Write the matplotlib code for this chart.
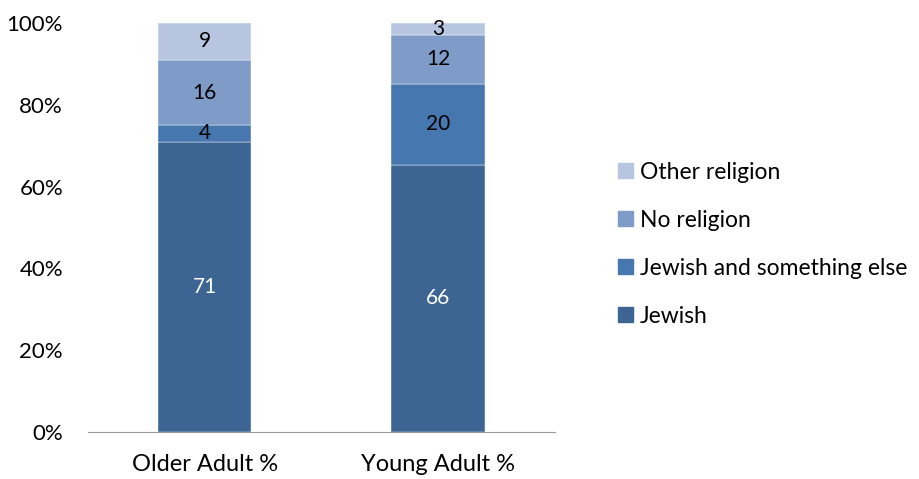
import numpy as np
import matplotlib.pyplot as plt
from matplotlib.patches import Patch

plt.rcParams['font.family'] = ['Lato', 'DejaVu Sans']

groups = ['Older Adult %', 'Young Adult %']
series = ['Jewish', 'Jewish and something else', 'No religion', 'Other religion']
jewish = [71, 66]
jewish_else = [4, 20]
no_religion = [16, 12]
other_religion = [9, 3]

colors = ['#3d6594', '#4677af', '#7f9cc8', '#b7c5e0']
text_colors = ['white', 'black', 'black', 'black']

values = np.array([jewish, jewish_else, no_religion, other_religion], dtype=float)
totals = values.sum(axis=0)
shares = values / totals * 100

fig = plt.figure(figsize=(9.19, 4.79), dpi=100)
ax = fig.add_axes([0.0958, 0.098, 0.508, 0.854])

x = np.arange(len(groups))
bottom = np.zeros(len(groups))
for i in range(len(series)):
    ax.bar(x, shares[i], 0.4, bottom=bottom, color=colors[i],
           edgecolor='white', linewidth=0.3, label=series[i])
    for j in range(len(groups)):
        ax.text(x[j], bottom[j] + shares[i][j] / 2, '%d' % values[i][j],
                ha='center', va='center', fontsize=15, color=text_colors[i])
    bottom += shares[i]

ax.set_xlim(-0.5, 1.5)
ax.set_ylim(0, 100)
ax.set_yticks(range(0, 101, 20))
ax.set_yticklabels(['%d%%' % v for v in range(0, 101, 20)])
ax.set_xticks(x)
ax.set_xticklabels(groups)
ax.tick_params(axis='y', length=0, labelsize=16, pad=18)
ax.tick_params(axis='x', length=0, labelsize=17, pad=16)
for side in ['top', 'right', 'left']:
    ax.spines[side].set_visible(False)
ax.spines['bottom'].set_color('#999999')

handles = [Patch(color=colors[i]) for i in range(len(series))][::-1]
fig.legend(handles, series[::-1], loc='center left', bbox_to_anchor=(0.65, 0.49),
           frameon=False, fontsize=16.5, handlelength=0.65, handleheight=0.65,
           handletextpad=0.3, labelspacing=1.18)

fig.savefig('out.png', dpi=100)
